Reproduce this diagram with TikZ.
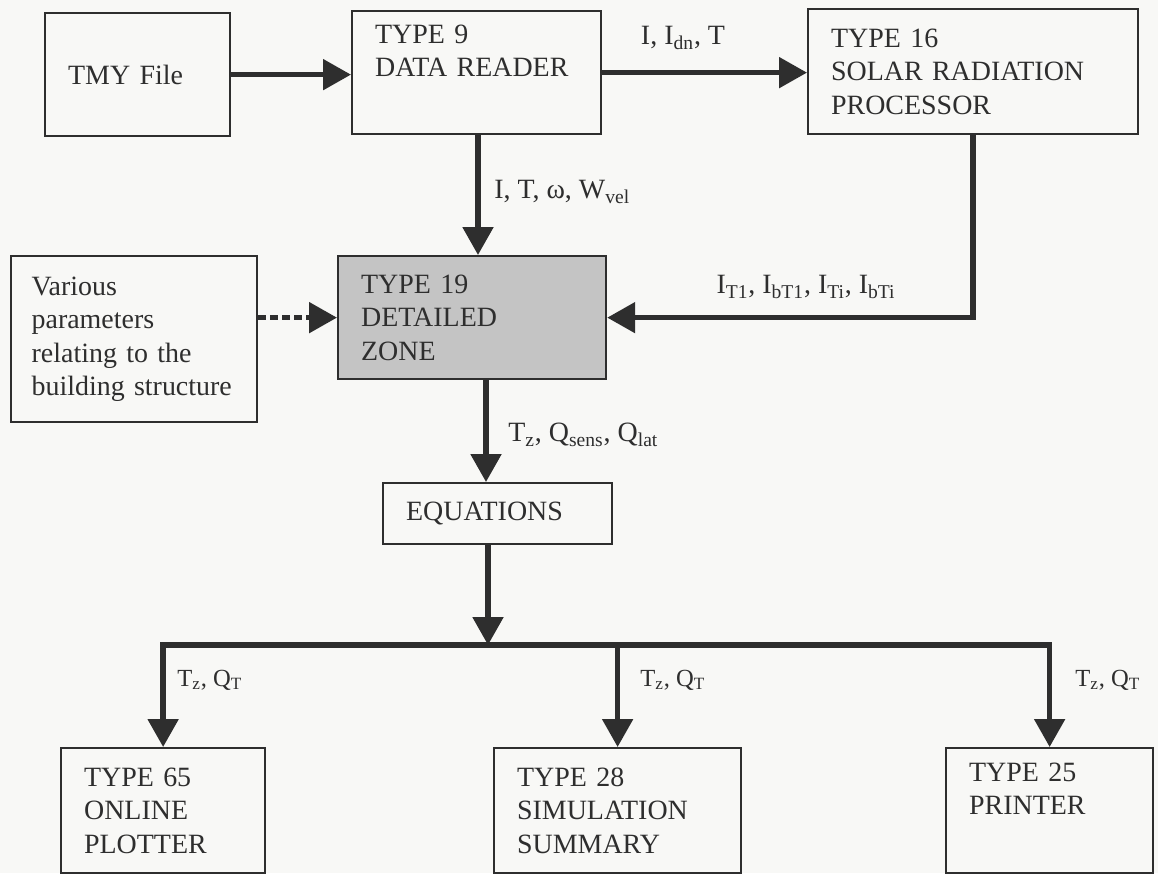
\documentclass[tikz,border=0pt]{standalone}
\usepackage{fontspec}
\setmainfont{Liberation Serif}
\usetikzlibrary{arrows.meta}
\definecolor{ink}{HTML}{2E2E2E}
\definecolor{zonegray}{HTML}{C4C4C4}
\definecolor{paper}{HTML}{F8F8F6}

\begin{document}
\begin{tikzpicture}[x=0.02cm,y=-0.02cm,
  blk/.style={draw=ink, line width=1.3pt, text=ink, anchor=north west, align=left,
    inner xsep=0.46cm, inner ysep=0pt, font=\fontsize{15.9}{19}\selectfont},
  flow/.style={draw=ink, line width=3pt, -{Triangle[length=0.56cm,width=0.6cm]}},
  dotflow/.style={flow, dash pattern=on 0.16cm off 0.08cm},
  lbl/.style={text=ink, inner sep=0pt, font=\fontsize{15.9}{19}\selectfont},
  smlbl/.style={lbl, font=\fontsize{14}{17}\selectfont}]
\fill[paper] (0,0) rectangle (1158,873);
\useasboundingbox (0,0) rectangle (1158,873);

% boxes
\node[blk, text width=2.78cm, minimum height=2.46cm] (tmy) at (44,12) {TMY File};
\node[blk, text width=4.06cm, minimum height=2.46cm] (reader) at (351,10) {TYPE 9\\DATA READER\\\strut};
\node[blk, text width=5.68cm, minimum height=2.5cm] (solar) at (807,8) {TYPE 16\\SOLAR RADIATION\\PROCESSOR};
\node[blk, inner xsep=0.41cm, text width=4.1cm, minimum height=3.32cm] (params) at (10,255) {Various\\parameters\\relating to the\\building structure};
\node[blk, fill=zonegray, text width=4.44cm, minimum height=2.46cm] (zone) at (337,255) {TYPE 19\\DETAILED\\ZONE};
\node[blk, text width=3.66cm, minimum height=1.22cm] (eqn) at (382,482) {EQUATIONS};
\node[blk, text width=3.16cm, minimum height=2.5cm] (plotter) at (60,747) {TYPE 65\\ONLINE\\PLOTTER};
\node[blk, text width=4.02cm, minimum height=2.5cm] (summary) at (493,747) {TYPE 28\\SIMULATION\\SUMMARY};
\node[blk, text width=3.22cm, minimum height=2.5cm] (printer) at (945,747) {TYPE 25\\PRINTER\\\strut};

\coordinate (colA) at (478,0);
\coordinate (colB) at (486,0);
\coordinate (split) at (488,645);

% connectors
\draw[flow] (tmy.east) -- (tmy.east -| reader.west);
\draw[flow] (reader.east) -- (reader.east -| solar.west);
\draw[flow] (reader.south -| colA) -- (zone.north -| colA);
\draw[flow] (solar.south) |- (zone.east);
\draw[dotflow] (params.east |- zone.west) -- (zone.west);
\draw[flow] (zone.south -| colB) -- (eqn.north -| colB);
\draw[flow] (eqn.south -| split) -- (split);
\draw[flow] (split) -| (plotter.north);
\draw[flow] (split) -| (printer.north);
\draw[flow] (split -| summary.north) -- (summary.north);

% labels
\node[lbl] (lbldn) at (683,38) {I, I\textsubscript{dn}, T};
\node[lbl, anchor=west] (lblw) at (494,192) {I, T, ω, W\textsubscript{vel}};
\node[lbl] (lblt) at (806,287) {I\textsubscript{T1}, I\textsubscript{bT1}, I\textsubscript{Ti}, I\textsubscript{bTi}};
\node[lbl, anchor=west] (lblq) at (508,435) {T\textsubscript{z}, Q\textsubscript{sens}, Q\textsubscript{lat}};
\node[smlbl, anchor=west] (lbla) at (177,680) {T\textsubscript{z}, Q\textsubscript{T}};
\node[smlbl, anchor=west] (lblb) at (640,680) {T\textsubscript{z}, Q\textsubscript{T}};
\node[smlbl, anchor=west] (lblc) at (1075,680) {T\textsubscript{z}, Q\textsubscript{T}};
\end{tikzpicture}
\end{document}
